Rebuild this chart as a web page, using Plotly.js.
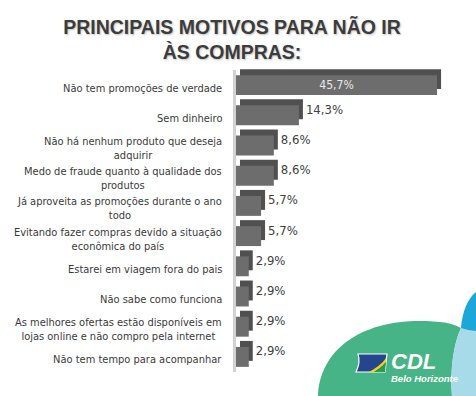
<!DOCTYPE html>
<html>
<head>
<meta charset="utf-8">
<script src="https://cdn.plot.ly/plotly-3.0.1.min.js"></script>
<style>html,body{margin:0;padding:0;background:#fff;}#chart{width:476px;height:396px;}</style>
</head>
<body>
<div id="chart"></div>
<script>
// ---- data ----
const categories = [
  "Não tem promoções de verdade",
  "Sem dinheiro",
  "Não há nenhum produto que deseja<br>adquirir",
  "Medo de fraude quanto à qualidade dos<br>produtos",
  "Já aproveita as promoções durante o ano<br>todo",
  "Evitando fazer compras devido a situação<br>econômica do país",
  "Estarei em viagem fora do pais",
  "Não sabe como funciona",
  "As melhores ofertas estão disponíveis em<br>lojas online e não compro pela internet",
  "Não tem tempo para acompanhar"
];
const values = [45.7, 14.3, 8.6, 8.6, 5.7, 5.7, 2.9, 2.9, 2.9, 2.9];
const titleText = "PRINCIPAIS MOTIVOS PARA NÃO IR<br>ÀS COMPRAS:";
const logoText = "CDL";
const logoSub = "Belo Horizonte";

// ---- helpers ----
const W = 476, H = 396;
const fmt = v => v.toFixed(1).replace('.', ',') + '%';
const labels = values.map(fmt);
const insideIdx = 0; // largest bar carries its label inside
const frontText = labels.map((t, i) => i === insideIdx ? t : '');
const backText = labels.map((t, i) => i === insideIdx ? '' : t);
const px = (x, y) => (x / W).toFixed(5) + ',' + (1 - y / H).toFixed(5);
const path = (cmds) => cmds.replace(/(\d+(?:\.\d+)?),(\d+(?:\.\d+)?)/g, (m, a, b) => px(+a, +b));

const plotL = 236, plotW = 230, scale = 4.4; // px per percent
const depthX = 4, depthY = 6;
const plotTop = 70, plotBot = 372;
const xr = [0, plotW / scale];

const textFont = {family: 'DejaVu Sans Condensed, DejaVu Sans', size: 13, color: '#404040'};

const back = {
  type: 'bar', orientation: 'h', y: categories, x: values,
  xaxis: 'x', yaxis: 'y',
  marker: {color: '#505050', line: {width: 0}},
  text: backText, textposition: 'outside', cliponaxis: false,
  textfont: textFont, hoverinfo: 'skip'
};
const front = {
  type: 'bar', orientation: 'h', y: categories, x: values,
  xaxis: 'x2', yaxis: 'y2',
  marker: {color: '#6d6d6d', line: {width: 0}},
  text: frontText, textposition: 'inside', insidetextanchor: 'middle',
  insidetextfont: {family: 'DejaVu Sans Condensed, DejaVu Sans', size: 13, color: '#e8e8e8'},
  cliponaxis: false, hoverinfo: 'skip'
};

const annotations = categories.map(c => ({
  xref: 'paper', x: 224 / W, xanchor: 'right',
  yref: 'y2', y: c, yanchor: 'middle', yshift: -3,
  text: c, showarrow: false, align: 'center',
  font: {family: 'DejaVu Sans Condensed, DejaVu Sans', size: 11, color: '#3a3a3a'}
}));
annotations.push({
  xref: 'paper', yref: 'paper', x: 389 / W, y: 1 - 361 / H, xanchor: 'left', yanchor: 'middle',
  text: logoText, showarrow: false,
  font: {family: 'Liberation Sans', size: 22, color: '#ffffff', weight: 'bold', style: 'italic'}
});
annotations.push({
  xref: 'paper', yref: 'paper', x: 389 / W, y: 1 - 378 / H, xanchor: 'left', yanchor: 'middle',
  text: logoSub, showarrow: false,
  font: {family: 'Liberation Sans', size: 9.5, color: '#ffffff', weight: 'bold', style: 'italic'}
});

const shapes = [
  {type: 'path', xref: 'paper', yref: 'paper', line: {width: 0}, fillcolor: '#47b487',
   path: path('M318,396 C320,350 360,321 420,321 C440,321 452,323 461,328 C453,345 450,372 452,396 Z')},
  {type: 'path', xref: 'paper', yref: 'paper', line: {width: 0}, fillcolor: '#a7dbe9',
   path: path('M461,328 C466,330 472,331 476,331 L476,396 L452,396 C450,372 453,345 461,328 Z')},
  {type: 'path', xref: 'paper', yref: 'paper', line: {width: 0}, fillcolor: '#1ba7d7',
   path: path('M476,292 C468,298 462,312 461,328 C466,330 472,331 476,331 Z')},
  // flag icon
  {type: 'path', xref: 'paper', yref: 'paper', line: {width: 1.2, color: '#ffffff'}, fillcolor: '#24468f',
   path: path('M358,354 L387,354 C386,360 386,366 385,372 L356,372 C359,366 360,360 358,354 Z')},
  {type: 'path', xref: 'paper', yref: 'paper', line: {width: 0}, fillcolor: '#f3d21c',
   path: path('M369,372 C376,368 382,364 386,358 L386,362 C382,367 377,370 374,372 Z')},
  {type: 'path', xref: 'paper', yref: 'paper', line: {width: 0}, fillcolor: '#2e9a4a',
   path: path('M374,372 C377,370 382,367 386,362 L385,372 Z')}
];

const layout = {
  width: W, height: H,
  margin: {l: 0, r: 0, t: 0, b: 0},
  paper_bgcolor: '#ffffff', plot_bgcolor: 'rgba(0,0,0,0)',
  showlegend: false, bargap: 0.34,
  title: {
    text: titleText, x: 232 / W, xanchor: 'center', xref: 'container',
    y: 1 - 34 / H, yanchor: 'top', yref: 'container',
    font: {family: 'Liberation Sans', size: 19.5, color: '#3c3c3c', weight: 'bold',
           shadow: '1px 1px 2px rgba(0,0,0,0.25)'}
  },
  xaxis: {domain: [(plotL + depthX) / W, (plotL + depthX + plotW) / W], range: xr,
          visible: false, fixedrange: true},
  yaxis: {domain: [(H - plotBot + depthY) / H, (H - plotTop + depthY) / H],
          autorange: 'reversed', visible: false, anchor: 'x'},
  xaxis2: {domain: [plotL / W, (plotL + plotW) / W], range: xr, visible: false, anchor: 'y2'},
  yaxis2: {domain: [(H - plotBot) / H, (H - plotTop) / H], autorange: 'reversed', anchor: 'x2',
           showticklabels: false, ticks: '', showgrid: false, zeroline: false,
           showline: true, linecolor: '#d2d2d2', linewidth: 3},
  annotations: annotations,
  shapes: shapes
};

Plotly.newPlot('chart', [back, front], layout, {staticPlot: true, displayModeBar: false});
</script>
</body>
</html>
